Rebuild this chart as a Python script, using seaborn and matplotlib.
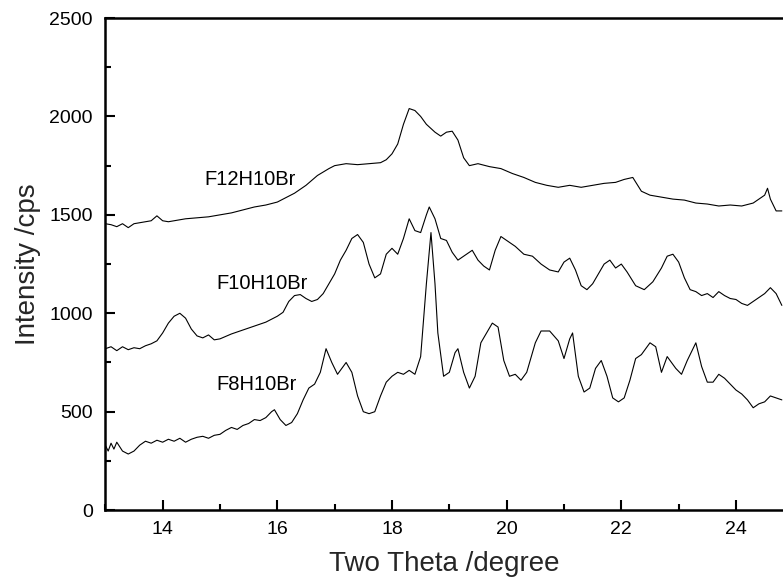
import numpy as np
import pandas as pd
import matplotlib
matplotlib.use("Agg")
import matplotlib.pyplot as plt
import seaborn as sns
from matplotlib.ticker import MultipleLocator

# Values
f12_theta = [13.0, 13.1, 13.2, 13.3, 13.4, 13.5, 13.6, 13.7, 13.8, 13.9, 14.0, 14.1, 14.2,
             14.4, 14.6, 14.8, 15.0, 15.2, 15.4, 15.6, 15.8, 16.0, 16.2, 16.3, 16.5, 16.7,
             16.9, 17.0, 17.2, 17.4, 17.6, 17.8, 17.9, 18.0, 18.1, 18.2, 18.3, 18.4, 18.5,
             18.6, 18.75, 18.85, 18.95, 19.05, 19.15, 19.25, 19.35, 19.5, 19.7, 19.9, 20.1,
             20.3, 20.5, 20.7, 20.9, 21.1, 21.3, 21.5, 21.7, 21.9, 22.05, 22.2, 22.35, 22.5,
             22.7, 22.9, 23.1, 23.3, 23.5, 23.7, 23.9, 24.1, 24.3, 24.4, 24.5, 24.55, 24.6,
             24.7, 24.8]
f12_counts = [1455, 1450, 1440, 1455, 1435, 1455, 1460, 1465, 1470, 1495, 1470, 1465, 1470,
              1480, 1485, 1490, 1500, 1510, 1525, 1540, 1550, 1565, 1595, 1610, 1650, 1700,
              1735, 1750, 1760, 1755, 1760, 1765, 1780, 1810, 1860, 1960, 2040, 2030, 2000,
              1960, 1920, 1900, 1920, 1925, 1880, 1790, 1750, 1760, 1745, 1735, 1710,
              1690, 1665, 1650, 1640, 1650, 1640, 1650, 1660, 1665, 1680, 1690, 1620, 1600,
              1590, 1580, 1575, 1560, 1555, 1545, 1550, 1545, 1560, 1580, 1600, 1635, 1580,
              1520, 1520]

f10_theta = [13.0, 13.1, 13.2, 13.3, 13.4, 13.5, 13.6, 13.7, 13.8, 13.9, 14.0, 14.1, 14.2,
             14.3, 14.4, 14.5, 14.6, 14.7, 14.8, 14.9, 15.0, 15.2, 15.4, 15.6, 15.8, 15.9,
             16.0, 16.1, 16.2, 16.3, 16.4, 16.5, 16.6, 16.7, 16.8, 16.9, 17.0, 17.1, 17.2,
             17.3, 17.4, 17.5, 17.6, 17.7, 17.8, 17.9, 18.0, 18.1, 18.2, 18.3, 18.4, 18.5,
             18.6, 18.65, 18.75, 18.85, 18.95, 19.05, 19.15, 19.3, 19.4, 19.5, 19.6, 19.7,
             19.8, 19.9, 20.0, 20.15, 20.3, 20.45, 20.6, 20.75, 20.9, 21.0, 21.1, 21.2, 21.3,
             21.4, 21.5, 21.6, 21.7, 21.8, 21.9, 22.0, 22.1, 22.25, 22.4, 22.55, 22.7, 22.8,
             22.9, 23.0, 23.1, 23.2, 23.3, 23.4, 23.5, 23.6, 23.7, 23.8, 23.9, 24.0, 24.1,
             24.2, 24.3, 24.4, 24.5, 24.6, 24.7, 24.8]
f10_counts = [820, 830, 810, 830, 815, 825, 820, 835, 845, 860, 900, 950, 985,
              1000, 975, 920, 885, 875, 890, 865, 870, 895, 915, 935, 955, 970,
              985, 1005, 1060, 1090, 1095, 1075, 1060, 1070, 1100, 1150, 1200, 1270, 1320,
              1380, 1400, 1360, 1250, 1180, 1200, 1300, 1330, 1300, 1380, 1480, 1420, 1410,
              1500, 1540, 1480, 1380, 1370, 1310, 1270, 1300, 1320, 1270, 1240, 1220,
              1320, 1390, 1370, 1340, 1300, 1290, 1250, 1220, 1210, 1260, 1280, 1220, 1140,
              1120, 1150, 1200, 1250, 1270, 1230, 1250, 1210, 1140, 1120, 1160, 1230, 1290,
              1300, 1260, 1180, 1120, 1110, 1090, 1100, 1080, 1110, 1090, 1075, 1070, 1050,
              1040, 1060, 1080, 1100, 1130, 1100, 1040]

f8_theta = [13.0, 13.05, 13.1, 13.15, 13.2, 13.3, 13.4, 13.5, 13.6, 13.7, 13.8, 13.9, 14.0,
            14.1, 14.2, 14.3, 14.4, 14.5, 14.6, 14.7, 14.8, 14.9, 15.0, 15.1, 15.2, 15.3,
            15.4, 15.5, 15.6, 15.7, 15.8, 15.9, 15.95, 16.05, 16.15, 16.25, 16.35, 16.45,
            16.55, 16.65, 16.75, 16.85, 16.95, 17.05, 17.2, 17.3, 17.4, 17.5, 17.6, 17.7,
            17.8, 17.9, 18.0, 18.1, 18.2, 18.3, 18.4, 18.5, 18.6, 18.68, 18.75, 18.8, 18.9,
            19.0, 19.1, 19.15, 19.25, 19.35, 19.45, 19.55, 19.65, 19.75, 19.85, 19.95, 20.05,
            20.15, 20.25, 20.35, 20.5, 20.6, 20.75, 20.9, 21.0, 21.1, 21.15, 21.25, 21.35,
            21.45, 21.55, 21.65, 21.75, 21.85, 21.95, 22.05, 22.15, 22.25, 22.35, 22.5, 22.6,
            22.7, 22.8, 22.85, 22.95, 23.05, 23.15, 23.3, 23.4, 23.5, 23.6, 23.7, 23.8,
            23.9, 24.0, 24.1, 24.2, 24.3, 24.4, 24.5, 24.6, 24.7, 24.8]
f8_counts = [330, 300, 340, 310, 345, 300, 285, 300, 330, 350, 340, 355, 345,
             360, 350, 365, 345, 360, 370, 375, 365, 380, 385, 405, 420, 410,
             430, 440, 460, 455, 470, 500, 510, 460, 430, 445, 490, 560,
             620, 640, 700, 820, 750, 690, 750, 700, 580, 500, 490, 500,
             580, 650, 680, 700, 690, 710, 690, 780, 1150, 1410, 1150, 900, 680,
             700, 800, 820, 700, 620, 680, 850, 900, 950, 930, 760, 680,
             690, 660, 700, 850, 910, 910, 860, 770, 870, 900, 680, 600,
             620, 720, 760, 680, 570, 550, 570, 660, 770, 790, 850, 830,
             700, 780, 760, 720, 690, 760, 850, 730, 650, 650, 690, 670,
             640, 610, 590, 560, 520, 540, 550, 580, 570, 560]

sample_names = ["F12H10Br", "F10H10Br", "F8H10Br"]
label_theta = [15.53, 15.74, 15.64]
label_counts = [1680, 1150, 640]

frames = []
for name, xs, ys in zip(sample_names,
                        [f12_theta, f10_theta, f8_theta],
                        [f12_counts, f10_counts, f8_counts]):
    frames.append(pd.DataFrame({"theta": xs, "counts": ys, "sample": name}))
df = pd.concat(frames, ignore_index=True)

sns.set_theme(style="ticks")
plt.rcParams["font.family"] = ["Liberation Sans", "DejaVu Sans"]

fig = plt.figure(figsize=(7.83, 5.81), dpi=100)
ax = fig.add_axes([0.1345, 0.122, 0.8655, 0.847])

sns.lineplot(data=df, x="theta", y="counts", units="sample", estimator=None,
             color="black", linewidth=0.8, sort=False, ax=ax, legend=False)

for name, tx, ty in zip(sample_names, label_theta, label_counts):
    ax.text(tx, ty, name, ha="center", va="center", fontsize=14.5, color="black")

ax.set_xlim(13.0, 24.82)
ax.set_ylim(0, 2500)
ax.xaxis.set_major_locator(MultipleLocator(2))
ax.xaxis.set_minor_locator(MultipleLocator(1))
ax.yaxis.set_major_locator(MultipleLocator(500))
ax.yaxis.set_minor_locator(MultipleLocator(250))
ax.tick_params(which="both", direction="in", width=1.5, colors="black",
               labelsize=14)
ax.tick_params(axis="x", which="both", pad=8)
ax.tick_params(axis="y", which="both", pad=9)
ax.tick_params(which="major", length=7)
ax.tick_params(which="minor", length=4)
for side in ["left", "bottom", "top"]:
    ax.spines[side].set_linewidth(1.8)
    ax.spines[side].set_color("black")
ax.spines["right"].set_visible(False)

ax.set_xlabel("Two Theta /degree", fontsize=20, labelpad=9)
ax.set_ylabel("Intensity /cps", fontsize=20, labelpad=6)

fig.savefig("out.png", dpi=100)
